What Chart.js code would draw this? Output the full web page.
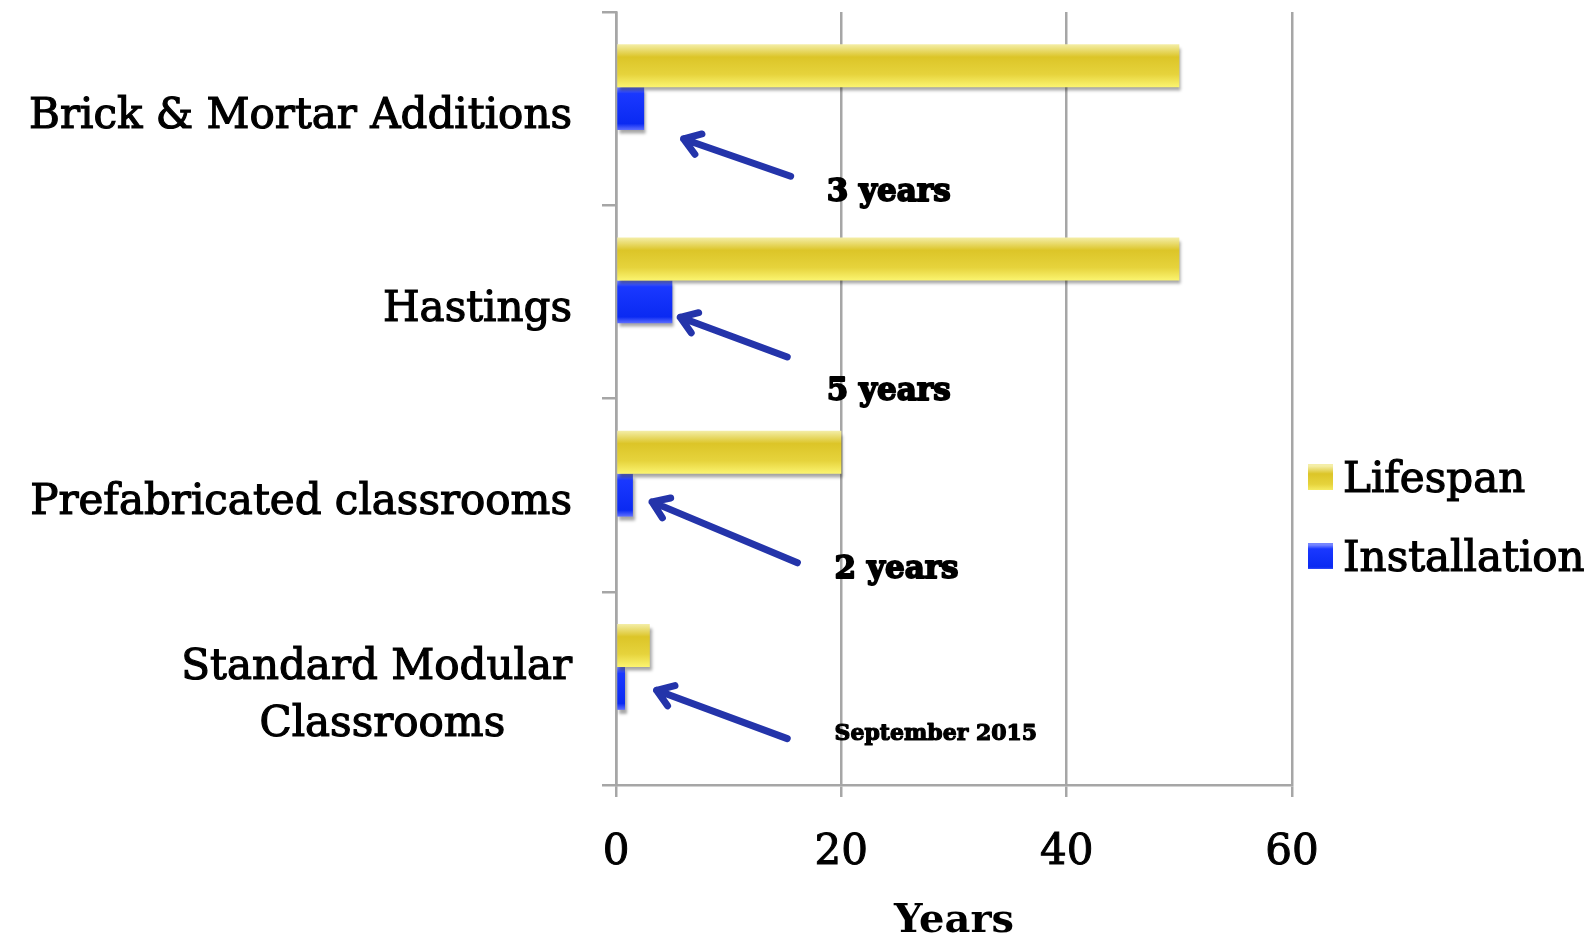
<!DOCTYPE html>
<html>
<head>
<meta charset="utf-8">
<script src="https://cdn.jsdelivr.net/npm/chart.js@4.4.0/dist/chart.umd.min.js"></script>
<style>
  html, body { margin: 0; padding: 0; background: #fff; }
  #wrap { width: 1592px; height: 935px; }
</style>
</head>
<body>
<div id="wrap"><canvas id="grafico" width="1592" height="935"></canvas></div>
<script>
// dados (anos)
const categorias = [
  'Brick & Mortar Additions',
  'Hastings',
  'Prefabricated classrooms',
  ['Standard Modular', 'Classrooms\u00a0\u00a0\u00a0\u00a0\u00a0']
];
const lifespan = [50, 50, 20, 3];
const installation = [2.5, 5, 1.5, 0.8];
const xTicks = [0, 20, 40, 60];
const legendaNomes = ['Lifespan', 'Installation'];

// notas com setas (em unidades do grafico)
const notaTextos = ['3 years', '5 years', '2 years', 'September 2015'];
const notaX = [18.7, 18.7, 19.4, 19.4];
const notaY = [0.437, 1.467, 2.387, 3.238];
const setaDeX = [15.5, 15.2, 16.1, 15.2];
const setaDeY = [0.35, 1.285, 2.35, 3.26];
const setaAteX = [6.0, 5.7, 3.2, 3.6];
const setaAteY = [0.157, 1.08, 2.035, 3.01];

const FONTE = "'DejaVu Serif', serif";
const CINZA = '#a6a6a6';
const amareloStops = [[0, '#f4eea8'], [0.3, '#dcc528'], [0.7, '#e6d33c'], [1, '#fbf470']];
const azulStops = [[0, '#7585ff'], [0.15, '#1a38ff'], [0.85, '#0a2af2'], [1, '#6070ff']];

// gradiente + sombra nas barras
const estiloBarras = {
  id: 'estiloBarras',
  beforeDatasetsDraw(chart) {
    [0, 1].forEach(i => {
      const meta = chart.getDatasetMeta(i);
      meta.data.forEach(el => {
        const t = el.y - el.height / 2, b = el.y + el.height / 2;
        const g = chart.ctx.createLinearGradient(0, t, 0, b);
        (i === 0 ? amareloStops : azulStops).forEach(s => g.addColorStop(s[0], s[1]));
        el.options = Object.assign({}, el.options, { backgroundColor: g });
      });
    });
  },
  beforeDatasetDraw(chart) {
    const ctx = chart.ctx;
    ctx.save();
    ctx.shadowColor = 'rgba(0,0,0,0.35)';
    ctx.shadowOffsetX = 2;
    ctx.shadowOffsetY = 4;
    ctx.shadowBlur = 3;
  },
  afterDatasetDraw(chart) {
    chart.ctx.restore();
  }
};

// setas e textos
const anotacoes = {
  id: 'anotacoes',
  afterDraw(chart) {
    const { ctx, scales: { x, y } } = chart;
    ctx.save();
    ctx.strokeStyle = '#2434aa';
    ctx.lineWidth = 7;
    ctx.lineCap = 'round';
    ctx.lineJoin = 'round';
    for (let i = 0; i < notaTextos.length; i++) {
      const x1 = x.getPixelForValue(setaDeX[i]), y1 = y.getPixelForValue(setaDeY[i]);
      const x2 = x.getPixelForValue(setaAteX[i]), y2 = y.getPixelForValue(setaAteY[i]);
      const ang = Math.atan2(y2 - y1, x2 - x1);
      const L = 19;
      ctx.beginPath();
      ctx.moveTo(x1, y1);
      ctx.lineTo(x2, y2);
      ctx.moveTo(x2 - L * Math.cos(ang - 0.6), y2 - L * Math.sin(ang - 0.6));
      ctx.lineTo(x2, y2);
      ctx.lineTo(x2 - L * Math.cos(ang + 0.6), y2 - L * Math.sin(ang + 0.6));
      ctx.stroke();
    }
    ctx.fillStyle = '#000';
    ctx.strokeStyle = '#000';
    ctx.lineJoin = 'round';
    ctx.textBaseline = 'middle';
    ctx.textAlign = 'left';
    for (let i = 0; i < notaTextos.length; i++) {
      const longo = notaTextos[i].length > 10;
      ctx.font = 'bold ' + (longo ? 22 : 31) + 'px ' + FONTE;
      ctx.lineWidth = longo ? 1.2 : 1.8;
      const px = x.getPixelForValue(notaX[i]), py = y.getPixelForValue(notaY[i]);
      ctx.strokeText(notaTextos[i], px, py);
      ctx.fillText(notaTextos[i], px, py);
    }
    ctx.restore();
  }
};

// legenda desenhada a direita
const legenda = {
  id: 'legenda',
  afterDraw(chart) {
    const ctx = chart.ctx;
    const a = chart.chartArea;
    const x0 = a.right + 16;
    const ys = [481, 560];
    ctx.save();
    legendaNomes.forEach((nome, i) => {
      const g = ctx.createLinearGradient(0, ys[i] - 15, 0, ys[i] + 11);
      (i === 0 ? amareloStops : azulStops).forEach(s => g.addColorStop(s[0], s[1]));
      ctx.fillStyle = g;
      ctx.fillRect(x0, ys[i] - 17, 25, 26);
      ctx.fillStyle = '#000';
      ctx.strokeStyle = '#000';
      ctx.lineWidth = 1.2;
      ctx.font = '42px ' + FONTE;
      ctx.textBaseline = 'middle';
      ctx.strokeText(nome, x0 + 35, ys[i]);
      ctx.fillText(nome, x0 + 35, ys[i]);
    });
    ctx.restore();
  }
};

const grafico = new Chart(document.getElementById('grafico'), {
  type: 'bar',
  data: {
    labels: categorias,
    datasets: [
      { label: legendaNomes[0], data: lifespan, backgroundColor: '#e0cc30', borderWidth: 0 },
      { label: legendaNomes[1], data: installation, backgroundColor: '#0a2af2', borderWidth: 0 },
      { label: '', data: [null, null, null, null] }
    ]
  },
  options: {
    indexAxis: 'y',
    responsive: false,
    animation: false,
    devicePixelRatio: 1,
    barPercentage: 1,
    categoryPercentage: 0.667,
    layout: { padding: { top: 12, right: 300, left: 0, bottom: 0 } },
    plugins: {
      legend: { display: false },
      tooltip: { enabled: false }
    },
    scales: {
      x: {
        min: 0,
        max: 60,
        afterBuildTicks(scale) { scale.ticks = xTicks.map(v => ({ value: v })); },
        afterFit(scale) { scale.height = 150; },
        grid: { color: CINZA, lineWidth: 2.5, tickLength: 12 },
        border: { color: CINZA, width: 2.5 },
        ticks: { color: '#000', font: { family: FONTE, size: 42 }, padding: 31, textStrokeColor: '#000', textStrokeWidth: 1 },
        title: {
          display: true,
          text: 'Years',
          color: '#000',
          font: { family: FONTE, size: 40, weight: 'bold', lineHeight: 0.65 },
          padding: 0
        }
      },
      y: {
        afterFit(scale) {
          scale.width = 616;
          scale.paddingTop = 0;
          scale.paddingBottom = 0;
        },
        grid: { color: CINZA, lineWidth: 2.5, tickLength: 14, drawOnChartArea: false, offset: true },
        border: { color: CINZA, width: 2.5 },
        ticks: {
          color: '#000',
          font: { family: FONTE, size: 42, lineHeight: 1.36 },
          padding: 30,
          labelOffset: 8,
          textStrokeColor: '#000',
          textStrokeWidth: 1.2
        }
      }
    }
  },
  plugins: [estiloBarras, anotacoes, legenda]
});
</script>
</body>
</html>
